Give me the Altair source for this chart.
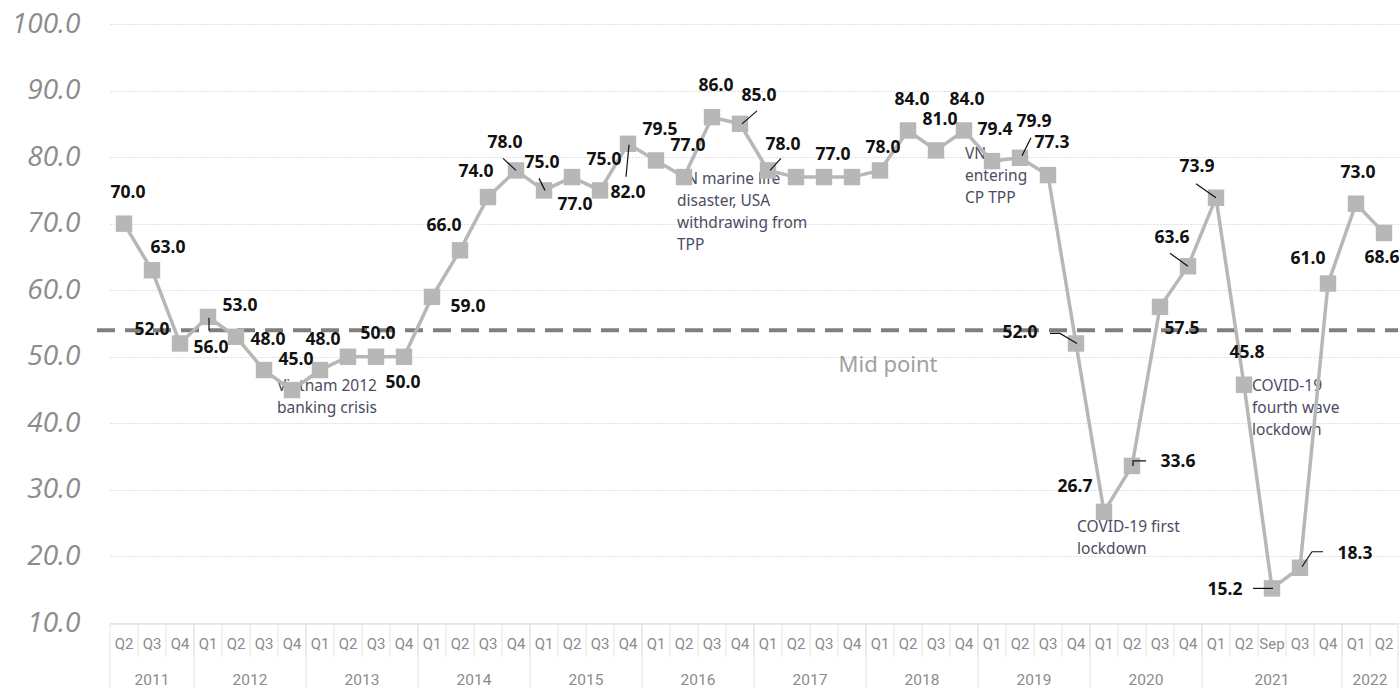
import altair as alt
import pandas as pd

# Period structure of the series (year -> periods shown on the axis)
YEARS = ["2011", "2012", "2013", "2014", "2015", "2016",
         "2017", "2018", "2019", "2020", "2021", "2022"]
PERIODS = [
    ["Q2", "Q3", "Q4"],
    ["Q1", "Q2", "Q3", "Q4"],
    ["Q1", "Q2", "Q3", "Q4"],
    ["Q1", "Q2", "Q3", "Q4"],
    ["Q1", "Q2", "Q3", "Q4"],
    ["Q1", "Q2", "Q3", "Q4"],
    ["Q1", "Q2", "Q3", "Q4"],
    ["Q1", "Q2", "Q3", "Q4"],
    ["Q1", "Q2", "Q3", "Q4"],
    ["Q1", "Q2", "Q3", "Q4"],
    ["Q1", "Q2", "Sep", "Q3", "Q4"],
    ["Q1", "Q2"],
]

# Index values, one per period
VALUES = [
    70.0, 63.0, 52.0,
    56.0, 53.0, 48.0, 45.0,
    48.0, 50.0, 50.0, 50.0,
    59.0, 66.0, 74.0, 78.0,
    75.0, 77.0, 75.0, 82.0,
    79.5, 77.0, 86.0, 85.0,
    78.0, 77.0, 77.0, 77.0,
    78.0, 84.0, 81.0, 84.0,
    79.4, 79.9, 77.3, 52.0,
    26.7, 33.6, 57.5, 63.6,
    73.9, 45.8, 15.2, 18.3, 61.0,
    73.0, 68.6,
]

MIDPOINT = 54.0

# Value-label placement: pixel offsets (dx, dy) from each marker; None = no label
LABEL_OFFSETS = [
    (4, -31), (16, -22), (-28, -13), (3, 31), (4, -31), (4, -30), (4, -30),
    (3, -30), None, (2, -23), (-1, 26),
    (36, 10), (-16, -24), (-12, -25), (-11, -27), (-2, -27), (3, 28), (4, -30),
    (0, 49), (4, -30), (4, -31), (4, -31), (19, -28), (15, -25),
    None, (9, -22), None, (3, -22), (4, -30), (4, -30), (3, -30), (3, -31),
    (14, -36), (4, -32), (-56, -10),
    (-29, -25), (46, -4), (22, 22), (-16, -28), (-19, -31), (3, -32), (-47, 2),
    (55, -14), (-20, -25), (2, -31), (-2, 25),
]

# Leader lines: marker index -> polyline of pixel offsets from that marker
LEADERS = {
    3: [(1, 1), (1, 14)],
    14: [(-13, -12), (0, 0)],
    15: [(-5, -12), (1, 0)],
    18: [(-2, 33), (1, 1)],
    22: [(17, -13), (2, 0)],
    23: [(13, -12), (2, 0)],
    32: [(11, -20), (2, -2)],
    34: [(-26, -10), (-16, -10), (1, 0)],
    36: [(1, 0), (1, -5), (14, -5)],
    38: [(-18, -13), (0, 0)],
    39: [(-20, -14), (0, 0)],
    41: [(-19, 0), (1, 0)],
    42: [(2, -1), (12, -16), (23, -16)],
}

# Event notes: (marker index, text, dx, dy) with offsets to the text's top-left
NOTES = [
    (6, "Vietnam 2012\nbanking crisis", -15, -11),
    (20, "VN marine life\ndisaster, USA\nwithdrawing from\nTPP", -7, -5),
    (31, "VN\nentering\nCP TPP", -27, -14),
    (35, "COVID-19 first\nlockdown", -27, 8),
    (40, "COVID-19\nfourth wave\nlockdown", 8, -6),
]

N = len(VALUES)
BAND = 28
W = BAND * N
H = 599
PX_X = W / N
PX_Y = H / 90.0

periods, years, idx = [], [], []
for y, ps in zip(YEARS, PERIODS):
    for p in ps:
        periods.append(p)
        years.append(y)
        idx.append(len(idx))

points = pd.DataFrame({"x": idx, "y": VALUES, "period": periods, "year": years})

labels = pd.DataFrame([
    {"x": i + off[0] / PX_X, "y": VALUES[i] - off[1] / PX_Y, "t": f"{VALUES[i]:.1f}"}
    for i, off in enumerate(LABEL_OFFSETS) if off is not None
])

leader_rows = []
for i, pts in LEADERS.items():
    for k, (dx, dy) in enumerate(pts):
        leader_rows.append({"id": i, "k": k, "x": i + dx / PX_X, "y": VALUES[i] - dy / PX_Y})
leaders = pd.DataFrame(leader_rows)

notes = pd.DataFrame([
    {"x": i + dx / PX_X, "y": VALUES[i] - dy / PX_Y, "t": t} for i, t, dx, dy in NOTES
])

# Axis helper tables
quarter_edges = pd.DataFrame({"x": [i - 0.5 for i in range(1, N)]})
year_edges_list, year_mid = [-0.5], []
start = 0
for y, ps in zip(YEARS, PERIODS):
    end = start + len(ps)
    year_edges_list.append(end - 0.5)
    year_mid.append({"x": (start + end - 1) / 2.0, "year": y})
    start = end
year_edges = pd.DataFrame({"x": year_edges_list})
year_labels = pd.DataFrame(year_mid)

xs = alt.Scale(domain=[-0.5, N - 0.5], nice=False, zero=False)
ys = alt.Scale(domain=[10, 100], nice=False, zero=False)
y_axis = alt.Axis(
    values=list(range(10, 101, 10)), format=".1f", title=None,
    grid=True, gridDash=[1, 2], gridColor="#c4c4c4", gridWidth=1,
    domain=False, ticks=False, labelPadding=30,
    labelFontSize=28, labelFont="Open Sans", labelFontStyle="italic",
    labelFontWeight=400, labelColor="#8c8c8c",
)
X = alt.X("x:Q", scale=xs, axis=None)
Y = alt.Y("y:Q", scale=ys, axis=y_axis)

LINE_GRAY = "#b7b7b7"
AXIS_LINE = "#e2e2e2"
AXIS_TEXT = "#8c8c8c"

note_layer = alt.Chart(notes).mark_text(
    align="left", baseline="top", lineBreak="\n", lineHeight=22,
    fontSize=15.5, font="Noto Sans", color="#4c4c62",
).encode(x=X, y=Y, text="t:N")

mid_rule = alt.Chart(pd.DataFrame({"y": [MIDPOINT]})).mark_rule(
    color="#7f7f7f", strokeWidth=4, strokeDash=[18, 10],
).encode(y=Y, x=alt.value(-13), x2=alt.value(W))

mid_text = alt.Chart(pd.DataFrame({"y": [MIDPOINT], "t": ["Mid point"]})).mark_text(
    fontSize=22, font="Noto Sans", color="#a0a0a0", dy=35, align="center",
).encode(y=Y, x=alt.value(778), text="t:N")

line = alt.Chart(points).mark_line(color=LINE_GRAY, strokeWidth=3.5).encode(x=X, y=Y)
squares = alt.Chart(points).mark_point(
    shape="square", filled=True, size=270, color=LINE_GRAY, opacity=1,
).encode(x=X, y=Y)

leader_layer = alt.Chart(leaders).mark_line(color="#111111", strokeWidth=1.2).encode(
    x=X, y=Y, detail="id:N", order="k:Q")

label_layer = alt.Chart(labels).mark_text(
    fontSize=17.5, fontWeight="bold", font="Noto Sans", color="#111111",
    align="center", baseline="middle",
).encode(x=X, y=Y, text="t:N")

# Two-level category axis below the plot
axis_top = alt.Chart(pd.DataFrame({"a": [0]})).mark_rule(
    color=AXIS_LINE, strokeWidth=1.5,
).encode(x=alt.value(0), x2=alt.value(W), y=alt.value(H + 1))

q_sep = alt.Chart(quarter_edges).mark_rule(color=AXIS_LINE, strokeWidth=1).encode(
    x=X, y=alt.value(H + 1), y2=alt.value(H + 34))

y_sep = alt.Chart(year_edges).mark_rule(color=AXIS_LINE, strokeWidth=1).encode(
    x=X, y=alt.value(H + 1), y2=alt.value(H + 70))

q_text = alt.Chart(points).mark_text(
    fontSize=15, font="Roboto", color=AXIS_TEXT, baseline="middle",
).encode(x=X, y=alt.value(H + 21), text="period:N")

y_text = alt.Chart(year_labels).mark_text(
    fontSize=15.5, font="Roboto", color=AXIS_TEXT, baseline="middle",
).encode(x=X, y=alt.value(H + 57), text="year:N")

chart = alt.layer(
    note_layer, mid_rule, mid_text, line, squares,
    leader_layer, label_layer, axis_top, q_sep, y_sep, q_text, y_text,
).properties(
    width=W, height=H,
    autosize=alt.AutoSizeParams(type="none"),
    padding={"left": 110, "top": 24, "right": 1, "bottom": 65},
    background="white",
).configure_view(stroke=None)

chart.save("out.html", embed_options={"renderer": "svg", "actions": False})
